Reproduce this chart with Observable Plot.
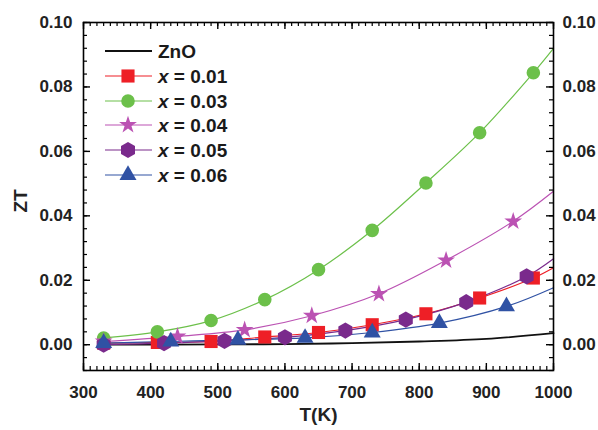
<!DOCTYPE html>
<html>
<head>
<meta charset="utf-8">
<script src="https://cdn.jsdelivr.net/npm/d3@7"></script>
<script src="https://cdn.jsdelivr.net/npm/@observablehq/plot@0.6"></script>
<style>
  html, body { margin: 0; padding: 0; background: #fff; }
  #chart { width: 598px; height: 430px; }
</style>
</head>
<body>
<div id="chart"></div>
<script>
// ---- data ----
const seriesNames = ["ZnO", "x = 0.01", "x = 0.03", "x = 0.04", "x = 0.05", "x = 0.06"];
const seriesColors = ["#111111", "#ee1f26", "#6cc04a", "#bb52b3", "#7a2a8c", "#3052a4"];
const seriesSymbols = [null, "square", "circle", "star", "hexagon", "triangle"];

// ZnO: line only
const znoT  = [330, 500, 600, 700, 800, 900, 1000];
const znoZT = [0.0000, 0.0001, 0.0002, 0.0005, 0.0010, 0.0018, 0.0036];

// x = 0.01 (red squares)
const x01T  = [330, 410, 490, 570, 650, 730, 810, 890, 970];
const x01ZT = [0.0005, 0.0007, 0.0010, 0.0024, 0.0038, 0.0062, 0.0096, 0.0145, 0.0207];
const x01End = 0.0239;

// x = 0.03 (green circles)
const x03T  = [330, 410, 490, 570, 650, 730, 810, 890, 970];
const x03ZT = [0.0021, 0.0040, 0.0075, 0.0140, 0.0233, 0.0355, 0.0502, 0.0658, 0.0844];
const x03End = 0.0920;

// x = 0.04 (pink stars)
const x04T  = [330, 440, 540, 640, 740, 840, 940];
const x04ZT = [0.0010, 0.0026, 0.0046, 0.0090, 0.0158, 0.0262, 0.0383];
const x04End = 0.0476;

// x = 0.05 (purple hexagons)
const x05T  = [330, 420, 510, 600, 690, 780, 870, 960];
const x05ZT = [0.0000, 0.0005, 0.0012, 0.0023, 0.0044, 0.0078, 0.0132, 0.0212];
const x05End = 0.0267;

// x = 0.06 (blue triangles)
const x06T  = [330, 430, 530, 630, 730, 830, 930];
const x06ZT = [0.0005, 0.0010, 0.0015, 0.0021, 0.0038, 0.0067, 0.0119];
const x06End = 0.0177;

const xTicks = [300, 400, 500, 600, 700, 800, 900, 1000];
const yTicks = [0.00, 0.02, 0.04, 0.06, 0.08, 0.10];
const xTitle = "T(K)";
const yTitle = "ZT";
const endT = 1000;

// ---- build tables ----
const markerSeries = [
  {T: x01T, ZT: x01ZT, end: x01End, i: 1},
  {T: x03T, ZT: x03ZT, end: x03End, i: 2},
  {T: x04T, ZT: x04ZT, end: x04End, i: 3},
  {T: x05T, ZT: x05ZT, end: x05End, i: 4},
  {T: x06T, ZT: x06ZT, end: x06End, i: 5}
];
const lineRows = znoT.map((t, k) => ({T: t, ZT: znoZT[k], s: 0}));
const dotRows = [];
for (const s of markerSeries) {
  s.T.forEach((t, k) => {
    lineRows.push({T: t, ZT: s.ZT[k], s: s.i});
    dotRows.push({T: t, ZT: s.ZT[k], s: s.i});
  });
  lineRows.push({T: endT, ZT: s.end, s: s.i});
}
const symbolR = {square: 7.4, circle: 6.8, star: 5.6, hexagon: 7.0, triangle: 6.3};

const W = 598, H = 430, mL = 83, mR = 45, mT = 22, mB = 60;
const innerW = W - mL - mR, innerH = H - mT - mB;
const xMinor = d3.range(300, 1001, 10);
const yMinor = d3.range(-0.008, 0.1001, 0.004);
const majLen = 7, minLen = 4;

const font = "'Liberation Sans', Arial, Helvetica, sans-serif";

const marks = [];
// line series
for (let i = 0; i < seriesNames.length; i++) {
  marks.push(Plot.line(lineRows.filter(d => d.s === i), {
    x: "T", y: "ZT", stroke: seriesColors[i],
    strokeWidth: i === 0 ? 1.8 : 1.2, curve: "catmull-rom"
  }));
}
// markers
for (let i = 1; i < seriesNames.length; i++) {
  const sym = seriesSymbols[i];
  marks.push(Plot.dot(dotRows.filter(d => d.s === i), {
    x: "T", y: "ZT", symbol: () => sym, fill: seriesColors[i], stroke: "none", r: symbolR[sym]
  }));
}
// inward ticks: bottom / top / left / right
marks.push(
  Plot.tickX(xMinor, {x: d => d, insetTop: innerH - minLen, stroke: "black", strokeWidth: 1.2}),
  Plot.tickX(xMinor, {x: d => d, insetBottom: innerH - minLen, stroke: "black", strokeWidth: 1.2}),
  Plot.tickX(xTicks, {x: d => d, insetTop: innerH - majLen, stroke: "black", strokeWidth: 1.4}),
  Plot.tickX(xTicks, {x: d => d, insetBottom: innerH - majLen, stroke: "black", strokeWidth: 1.4}),
  Plot.tickY(yMinor, {y: d => d, insetRight: innerW - minLen, stroke: "black", strokeWidth: 1.2}),
  Plot.tickY(yMinor, {y: d => d, insetLeft: innerW - minLen, stroke: "black", strokeWidth: 1.2}),
  Plot.tickY(yTicks, {y: d => d, insetRight: innerW - majLen, stroke: "black", strokeWidth: 1.4}),
  Plot.tickY(yTicks, {y: d => d, insetLeft: innerW - majLen, stroke: "black", strokeWidth: 1.4}),
  Plot.frame({stroke: "black", strokeWidth: 1.6}),
  Plot.axisX({anchor: "bottom", ticks: xTicks, tickSize: 0, tickPadding: 15, tickFormat: d => String(d), label: null}),
  Plot.axisY({anchor: "left", ticks: yTicks, tickSize: 0, tickPadding: 11, tickFormat: d3.format(".2f"), label: null}),
  Plot.axisY({anchor: "right", ticks: yTicks, tickSize: 0, tickPadding: 9, tickFormat: d3.format(".2f"), label: null}),
  Plot.text([xTitle], {frameAnchor: "bottom", dy: 50, text: d => d, fontSize: 19, fontWeight: "bold"}),
  Plot.text([yTitle], {frameAnchor: "left", dx: -63, dy: 16, rotate: -90, text: d => d, fontSize: 19, fontWeight: "bold"})
);

const svg = Plot.plot({
  width: W, height: H,
  marginLeft: mL, marginRight: mR, marginTop: mT, marginBottom: mB,
  x: {domain: [300, 1000], axis: null},
  y: {domain: [-0.008, 0.10], axis: null},
  style: {fontFamily: font, fontSize: "17px", fontWeight: "bold", color: "#222", background: "#fff"},
  marks
});

// ---- legend (inside plot, top-left) ----
const lg = d3.select(svg).append("g")
  .attr("font-family", font).attr("font-weight", "bold").attr("font-size", 19)
  .attr("text-anchor", "start");
const rowY = [51, 76, 101, 125, 150, 175];
seriesNames.forEach((name, i) => {
  const y = rowY[i];
  lg.append("line").attr("x1", 105).attr("x2", 152).attr("y1", y).attr("y2", y)
    .attr("stroke", seriesColors[i]).attr("stroke-width", i === 0 ? 1.8 : 1.2);
  const sym = seriesSymbols[i];
  if (sym) {
    const r = symbolR[sym];
    const symMap = {square: d3.symbolSquare, circle: d3.symbolCircle, star: d3.symbolStar, triangle: d3.symbolTriangle};
    let path;
    if (sym === "hexagon") {
      const rx = r, ry = rx * 2 / Math.sqrt(3), hy = ry / 2;
      path = `M0,${ry}L${rx},${hy}L${rx},${-hy}L0,${-ry}L${-rx},${-hy}L${-rx},${hy}Z`;
    } else {
      path = d3.symbol(symMap[sym], Math.PI * r * r)();
    }
    lg.append("path").attr("d", path).attr("transform", `translate(128,${y})`).attr("fill", seriesColors[i]);
  }
  const t = lg.append("text").attr("x", 158).attr("y", y).attr("dy", "0.36em")
    .attr("fill", "#1a1a1a").attr("text-anchor", "start");
  if (i === 0) {
    t.text(name);
  } else {
    t.append("tspan").attr("font-style", "italic").text(name.slice(0, 1));
    t.append("tspan").text(name.slice(1));
  }
});

document.getElementById("chart").appendChild(svg);
</script>
</body>
</html>
